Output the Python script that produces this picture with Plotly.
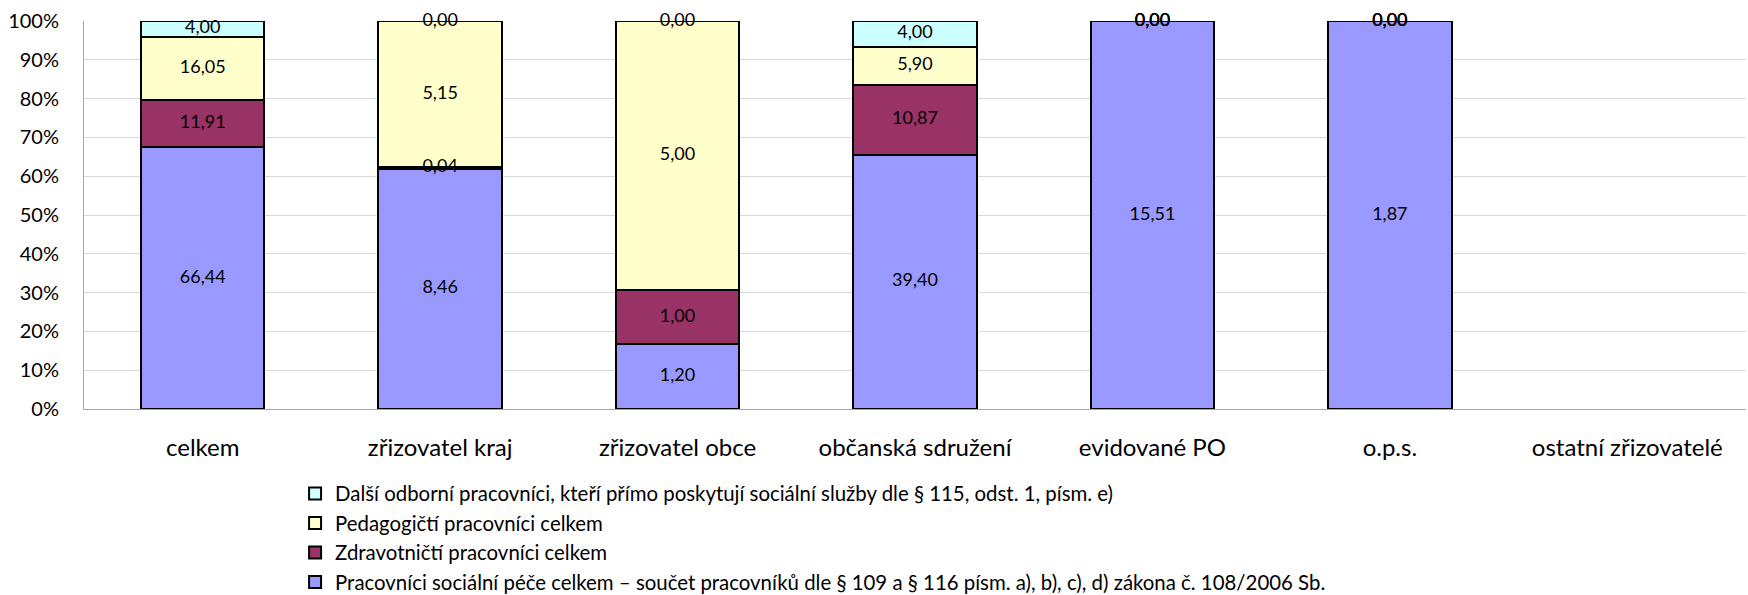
import plotly.graph_objects as go

categories = ["celkem", "zřizovatel kraj", "zřizovatel obce", "občanská sdružení",
              "evidované PO", "o.p.s.", "ostatní zřizovatelé"]

series_names = [
    "Pracovníci sociální péče celkem – součet pracovníků dle § 109 a § 116 písm. a), b), c), d) zákona č. 108/2006 Sb.",
    "Zdravotničtí pracovníci celkem",
    "Pedagogičtí pracovníci celkem",
    "Další odborní pracovníci, kteří přímo poskytují sociální služby dle § 115, odst. 1, písm. e)",
]
socialni = [66.44, 8.46, 1.20, 39.40, 15.51, 1.87, None]
zdravotnicti = [11.91, 0.04, 1.00, 10.87, 0.00, 0.00, None]
pedagogicti = [16.05, 5.15, 5.00, 5.90, 0.00, 0.00, None]
dalsi = [4.00, 0.00, 0.00, 4.00, 0.00, 0.00, None]

colors = ["#9999FF", "#993366", "#FFFFCC", "#CCFFFF"]
series = [socialni, zdravotnicti, pedagogicti, dalsi]

totals = []
for i in range(len(categories)):
    vals = [s[i] for s in series if s[i] is not None]
    totals.append(sum(vals) if vals else None)

FONT = "Lato, 'Open Sans', sans-serif"
fig = go.Figure()
cum = [0.0] * len(categories)
label_traces = []
n = len(series)
for k, (name, vals, col) in enumerate(zip(series_names, series, colors)):
    pct = []
    mids = []
    texts = []
    for i, v in enumerate(vals):
        if v is None or not totals[i]:
            pct.append(None)
            mids.append(None)
            texts.append("")
            continue
        p = v / totals[i] * 100
        pct.append(p)
        mids.append(cum[i] + p / 2)
        texts.append(f"{v:.2f}".replace(".", ","))
        cum[i] += p
    fig.add_trace(go.Bar(
        x=categories, y=pct, name=name, legendrank=n - k,
        marker=dict(color=col, line=dict(color="black", width=2)),
        hoverinfo="skip",
    ))
    label_traces.append(go.Scatter(
        x=categories, y=mids, mode="text", text=texts, cliponaxis=False,
        textposition="middle center", showlegend=False, hoverinfo="skip",
        textfont=dict(family=FONT, size=18, color="black"),
    ))
for t in label_traces:
    fig.add_trace(t)

fig.update_layout(
    width=1748, height=595,
    barmode="stack", bargap=0.48,
    plot_bgcolor="white", paper_bgcolor="white",
    margin=dict(l=84, r=2, t=21, b=186, autoexpand=False),
    font=dict(family=FONT, size=20, color="black"),
    showlegend=True,
    legend=dict(
        xref="paper", yref="container",
        x=0.127, y=0.204, xanchor="left", yanchor="top",
        traceorder="normal", tracegroupgap=0,
        font=dict(family=FONT, size=20.4, color="black"),
        itemwidth=30, bgcolor="rgba(0,0,0,0)",
    ),
    xaxis=dict(
        type="category", showline=True, linecolor="#A6A6A6", linewidth=1,
        ticks="", tickfont=dict(size=24), ticklabelstandoff=17, automargin=False,
    ),
    yaxis=dict(
        range=[0, 100], dtick=10, ticksuffix="%", showgrid=True,
        gridcolor="#D9D9D9", gridwidth=1, showline=True, linecolor="#A6A6A6",
        linewidth=1, ticks="", tickfont=dict(size=20), ticklabelstandoff=20,
        zeroline=False, automargin=False,
    ),
)
fig.write_html("out.html", config={"displayModeBar": False},
               post_script="document.body.style.margin='0';")
